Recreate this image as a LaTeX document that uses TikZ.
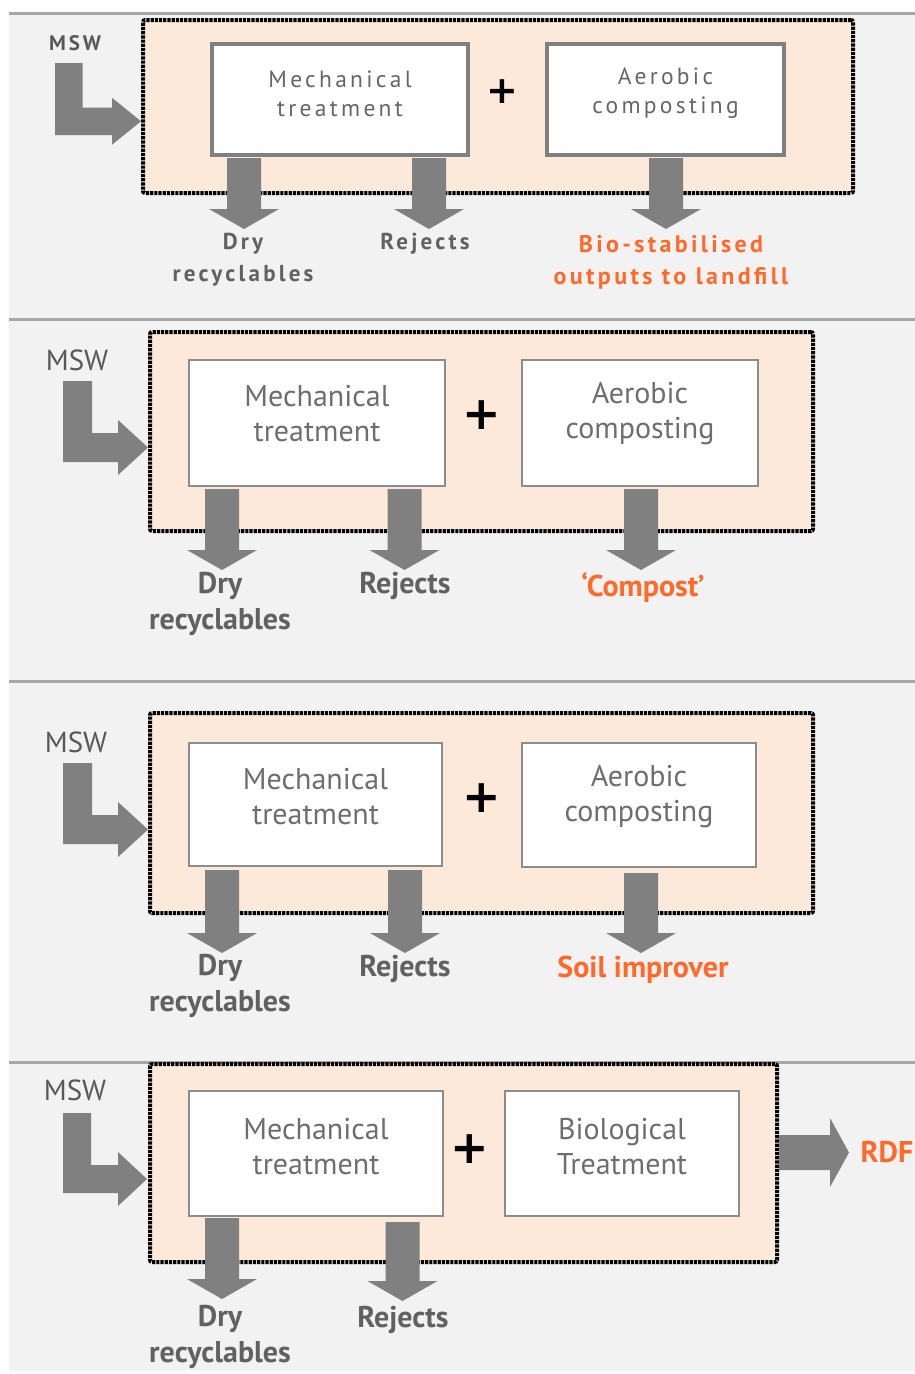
\documentclass[tikz,border=0pt]{standalone}
\usepackage{fontspec}
\setmainfont{PT Sans}
\newfontfamily\spaced[LetterSpace=14]{PT Sans}
\newfontfamily\plusfont{DejaVu Sans}
\usetikzlibrary{calc}
\definecolor{bg}{HTML}{F2F2F2}
\definecolor{sep}{HTML}{A6A6A6}
\definecolor{peach}{HTML}{FDE9D9}
\definecolor{agray}{HTML}{808080}
\definecolor{boxgray}{HTML}{8C8C8C}
\definecolor{txtgray}{HTML}{6E6E6E}
\definecolor{txtgrayA}{HTML}{666666}
\definecolor{lblgray}{HTML}{616161}
\definecolor{mswgray}{HTML}{585858}
\definecolor{orng}{HTML}{FF6A2B}
\tikzset{
 zone/.style={draw=black, line width=4pt, dash pattern=on 3.2pt off 1pt, fill=peach, rounded corners=2pt, inner sep=0pt},
 pbox/.style={draw=boxgray, line width=2pt, fill=white, inner sep=0pt},
 pboxA/.style={draw=agray, line width=3.5pt, fill=white, inner sep=0pt},
 btxt/.style={text=txtgray, align=center, font=\fontsize{30}{35}\selectfont},
 btxtA/.style={text=txtgrayA, align=center, font=\spaced\fontsize{23.5}{29}\selectfont},
 lbl/.style={text=lblgray, align=center, font=\bfseries\fontsize{30}{36}\selectfont},
 lblA/.style={text=lblgray, align=center, font=\spaced\bfseries\fontsize{23}{32}\selectfont},
 olbl/.style={lbl, text=orng},
 olblA/.style={lblA, text=orng, font=\spaced\bfseries\fontsize{24}{32}\selectfont},
 msw/.style={text=mswgray, font=\fontsize{29}{30}\selectfont},
 mswA/.style={text=mswgray, font=\spaced\bfseries\fontsize{21}{24}\selectfont},
 plussign/.style={font=\plusfont\bfseries\fontsize{46}{46}\selectfont, text=black, inner sep=0pt},
 ablock/.style={fill=agray},
}
% down block arrow: center x, top y, tip y
\newcommand\blockdown[3]{\fill[ablock] (#1-17,#2) -- (#1+17,#2) -- (#1+17,#3-20) -- (#1+35,#3-20) -- (#1,#3) -- (#1-35,#3-20) -- (#1-17,#3-20) -- cycle;}
% L block arrow: xl, ytop, ybot, width, xhead, xtip, head half height
\newcommand\lblock[7]{\fill[ablock] (#1,#2) -- (#1+#4,#2) -- (#1+#4,#3-#4) -- (#5,#3-#4) -- (#5,#3-#4/2-#7) -- (#6,#3-#4/2) -- (#5,#3-#4/2+#7) -- (#5,#3) -- (#1,#3) -- cycle;}
\begin{document}
\begin{tikzpicture}[x=1pt,y=-1pt]
\useasboundingbox (0,0) rectangle (915,1374);
\fill[white] (0,0) rectangle (915,1374);
\fill[bg] (9,12) rectangle (915,1371);
\foreach \yy in {13.5,319.5,681,1062.5}
  \draw[sep, line width=3pt] (9,\yy) -- (915,\yy);

% ---------- Panel 1 ----------
\node[zone, minimum width=710, minimum height=173] (z1) at (498,106.5) {};
\node[pboxA, minimum width=256, minimum height=111] (m1) at (340,99.5) {};
\node[pboxA, minimum width=237, minimum height=111] (a1) at (665.5,99.5) {};
\node[btxtA] (m1t) at (340,93.5) {Mechanical\\treatment};
\node[btxtA] (a1t) at (665.5,93.5) {Aerobic\\composting};
\node[plussign, font=\plusfont\bfseries\fontsize{38}{38}\selectfont] (p1) at (502,92) {+};
\node[mswA] (s1) at (75,43) {MSW};
\lblock{55}{63}{135}{27.5}{112}{141}{23.5}
\blockdown{244}{158}{229}
\blockdown{429}{158}{229}
\blockdown{666}{158}{229}
\node[lblA] (d1) at (243,260) {Dry\\recyclables};
\node[lblA] (r1) at (425,244) {Rejects};
\node[olblA] (o1) at (671,262) {Bio-stabilised\\outputs to landfill};

% ---------- Panel 2 ----------
\node[zone, minimum width=663, minimum height=199] (z2) at (481.5,431.5) {};
\node[pbox, minimum width=256, minimum height=126] (m2) at (317,423) {};
\node[pbox, minimum width=236, minimum height=126] (a2) at (640,423) {};
\node[btxt] (m2t) at (317,414) {Mechanical\\treatment};
\node[btxt] (a2t) at (640,414) {Aerobic\\composting};
\node[plussign] (p2) at (482,415) {+};
\node[msw] (s2) at (77,360) {MSW};
\lblock{63}{381}{462}{29}{118}{148}{27.5}
\blockdown{222}{489}{570}
\blockdown{404.5}{489}{570}
\blockdown{641}{489}{570}
\node[lbl] (d2) at (220,604) {Dry\\recyclables};
\node[lbl] (r2) at (405,586) {Rejects};
\node[olbl] (o2) at (643,588) {‘Compost’};

% ---------- Panel 3 ----------
\node[zone, minimum width=663, minimum height=200] (z3) at (481.5,813) {};
\node[pbox, minimum width=253, minimum height=123] (m3) at (315.5,804.5) {};
\node[pbox, minimum width=234, minimum height=124] (a3) at (639,804.5) {};
\node[btxt] (m3t) at (315.5,797) {Mechanical\\treatment};
\node[btxt] (a3t) at (639,797) {Aerobic\\composting};
\node[plussign] (p3) at (482,798) {+};
\node[msw] (s3) at (76,742) {MSW};
\lblock{63}{763}{844}{29}{118}{148}{27.5}
\blockdown{222}{870}{953}
\blockdown{405}{870}{953}
\blockdown{641}{873}{953}
\node[lbl] (d3) at (220,986) {Dry\\recyclables};
\node[lbl] (r3) at (405,969) {Rejects};
\node[olbl] (o3) at (643,970) {Soil improver};

% ---------- Panel 4 ----------
\node[zone, minimum width=627, minimum height=198] (z4) at (463.5,1163) {};
\node[pbox, minimum width=254, minimum height=125] (m4) at (316,1153.5) {};
\node[pbox, minimum width=234, minimum height=125] (b4) at (622,1153.5) {};
\node[btxt] (m4t) at (316,1146.5) {Mechanical\\treatment};
\node[btxt] (b4t) at (622,1146.5) {Biological\\Treatment};
\node[plussign] (p4) at (470,1149) {+};
\node[msw] (s4) at (75,1090) {MSW};
\lblock{63}{1113}{1193}{28}{118}{147}{27}
\blockdown{222}{1218}{1299}
\blockdown{402.5}{1222}{1301}
\fill[ablock] (z4.east |- 0,1135) -- (830,1135) -- (830,1118) -- (849,1152.5) -- (830,1187) -- (830,1170) -- (z4.east |- 0,1170) -- cycle;
\node[lbl] (d4) at (220,1336.5) {Dry\\recyclables};
\node[lbl] (r4) at (403,1320) {Rejects};
\node[olbl] (o4) at (887,1152) {RDF};
\end{tikzpicture}
\end{document}
